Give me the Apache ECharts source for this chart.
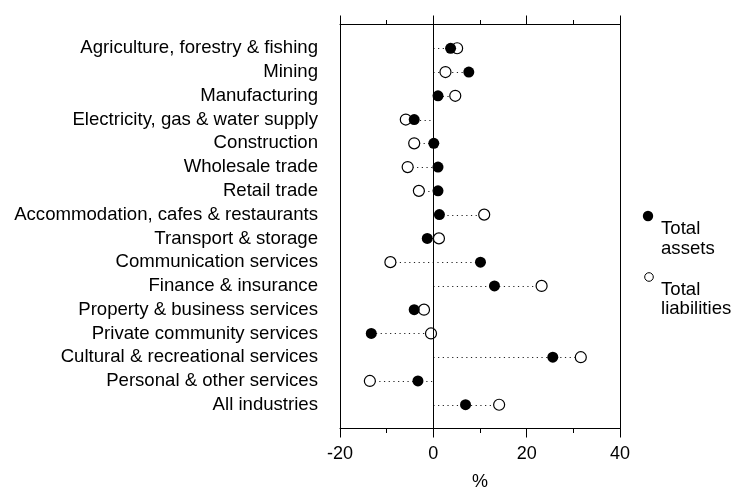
<!DOCTYPE html>
<html>
<head>
<meta charset="utf-8">
<script src="https://cdn.jsdelivr.net/npm/echarts@6/dist/echarts.min.js"></script>
<style>html,body{margin:0;padding:0;background:#fff;}#c{width:734px;height:491px;}</style>
</head>
<body>
<div id="c"></div>
<script>
const categories = [
  'Agriculture, forestry & fishing',
  'Mining',
  'Manufacturing',
  'Electricity, gas & water supply',
  'Construction',
  'Wholesale trade',
  'Retail trade',
  'Accommodation, cafes & restaurants',
  'Transport & storage',
  'Communication services',
  'Finance & insurance',
  'Property & business services',
  'Private community services',
  'Cultural & recreational services',
  'Personal & other services',
  'All industries'
];
const totalAssets = [3.7, 7.6, 1.0, -4.1, 0.1, 1.0, 1.0, 1.3, -1.3, 10.1, 13.1, -4.1, -13.3, 25.6, -3.3, 6.9];
const totalLiabilities = [5.1, 2.6, 4.7, -5.9, -4.1, -5.5, -3.1, 10.9, 1.2, -9.2, 23.2, -2.0, -0.5, 31.6, -13.6, 14.1];
const xTicks = [-20, 0, 20, 40];
const seriesNames = ['Total\nassets', 'Total\nliabilities'];

const FONT = '"Liberation Sans", Arial, sans-serif';
const n = categories.length;
const rowY = i => n - i;

const assetsData = totalAssets.map((v, i) => [v, rowY(i)]);
const liabData = totalLiabilities.map((v, i) => [v, rowY(i)]);
const spanData = categories.map((c, i) => [
  Math.min(0, totalAssets[i], totalLiabilities[i]),
  Math.max(0, totalAssets[i], totalLiabilities[i]),
  rowY(i)
]);

const chart = echarts.init(document.getElementById('c'), null, {renderer: 'canvas'});
const axisCommon = {
  type: 'value',
  min: xTicks[0],
  max: xTicks[xTicks.length - 1],
  interval: xTicks[1] - xTicks[0],
  axisLine: {show: true, onZero: false, lineStyle: {color: '#000', width: 1}},
  axisTick: {show: true, inside: false, length: 9, lineStyle: {color: '#000', width: 1}},
  minorTick: {show: true, splitNumber: 2, length: 4.5, lineStyle: {color: '#000', width: 1}},
  splitLine: {show: false},
  minorSplitLine: {show: false}
};
chart.setOption({
  animation: false,
  backgroundColor: '#fff',
  textStyle: {fontFamily: FONT},
  grid: {left: 340, right: 114, top: 24.5, bottom: 62.5, containLabel: false, outerBoundsMode: 'none'},
  xAxis: [
    Object.assign({}, axisCommon, {
      position: 'bottom',
      name: '%',
      nameLocation: 'middle',
      nameGap: 45,
      nameTextStyle: {color: '#000', fontSize: 18, fontFamily: FONT},
      axisLabel: {show: true, color: '#000', fontSize: 18, fontFamily: FONT, margin: 17}
    }),
    Object.assign({}, axisCommon, {
      position: 'top',
      axisLabel: {show: false}
    })
  ],
  yAxis: [
    {
      type: 'value', min: 0, max: n + 1, interval: 1, position: 'left',
      axisLine: {show: true, onZero: false, lineStyle: {color: '#000', width: 1}},
      axisTick: {show: false},
      splitLine: {show: false},
      axisLabel: {
        show: true, color: '#000', fontSize: 18.6, fontFamily: FONT, margin: 22,
        formatter: v => (v >= 1 && v <= n) ? categories[n - v] : ''
      }
    },
    {
      type: 'value', min: 0, max: n + 1, interval: 1, position: 'right',
      axisLine: {show: true, onZero: false, lineStyle: {color: '#000', width: 1}},
      axisTick: {show: false},
      splitLine: {show: false},
      axisLabel: {show: false}
    }
  ],
  series: [
    {
      type: 'custom',
      xAxisIndex: 0, yAxisIndex: 0,
      silent: true,
      z: 1,
      data: spanData,
      renderItem: function (params, api) {
        const p1 = api.coord([api.value(0), api.value(2)]);
        const p2 = api.coord([api.value(1), api.value(2)]);
        return {
          type: 'line',
          shape: {x1: p1[0], y1: Math.round(p1[1]) + 0.5, x2: p2[0], y2: Math.round(p2[1]) + 0.5},
          style: {stroke: '#222', lineWidth: 1.2, lineDash: [1.2, 3.5]}
        };
      },
      markLine: {
        silent: true,
        symbol: ['none', 'none'],
        label: {show: false},
        lineStyle: {color: '#000', width: 1, type: 'solid'},
        data: [{xAxis: 0}]
      }
    },
    {
      name: seriesNames[1],
      type: 'scatter',
      xAxisIndex: 0, yAxisIndex: 0,
      z: 3,
      symbol: 'circle',
      symbolSize: 11,
      itemStyle: {color: '#fff', borderColor: '#000', borderWidth: 1.2, opacity: 1},
      data: liabData
    },
    {
      name: seriesNames[0],
      type: 'scatter',
      xAxisIndex: 0, yAxisIndex: 0,
      z: 4,
      symbol: 'circle',
      symbolSize: 11,
      itemStyle: {color: '#000', borderColor: '#000', borderWidth: 0, opacity: 1},
      data: assetsData
    }
  ],
  graphic: [
    {type: 'circle', shape: {cx: 648, cy: 216, r: 5.2}, style: {fill: '#000'}},
    {type: 'text', left: 661, top: 219.5, style: {text: seriesNames[0], font: '18.6px ' + FONT, fill: '#000', lineHeight: 19.5}},
    {type: 'circle', shape: {cx: 649, cy: 277, r: 4.3}, style: {fill: '#fff', stroke: '#000', lineWidth: 1}},
    {type: 'text', left: 661, top: 280.5, style: {text: seriesNames[1], font: '18.6px ' + FONT, fill: '#000', lineHeight: 19}}
  ]
});
</script>
</body>
</html>
